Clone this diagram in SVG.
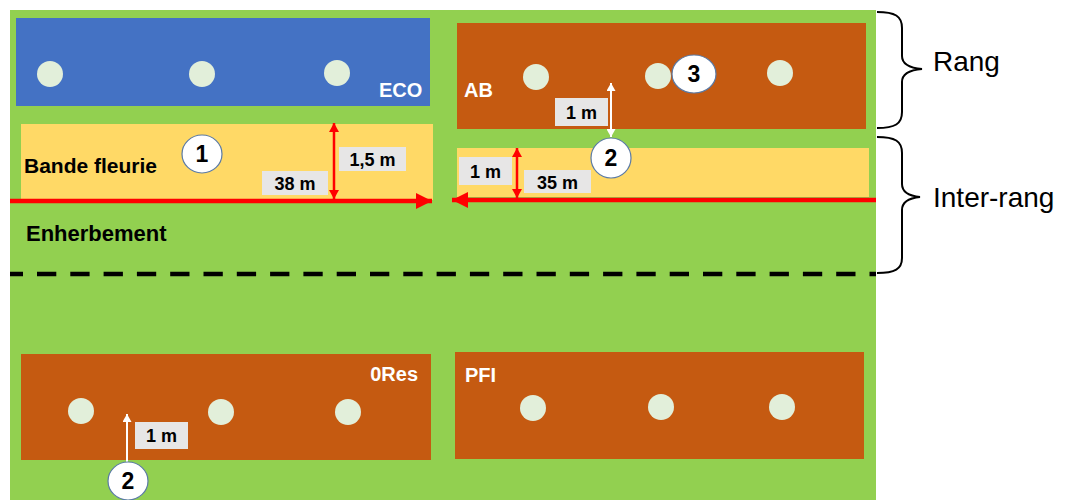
<svg xmlns="http://www.w3.org/2000/svg" width="1067" height="500" viewBox="0 0 1067 500">
  <style>
    .plot-label { font-family: "Liberation Sans", Arial, sans-serif; font-weight: bold; font-size: 20px; fill: #FFFFFF; }
    .dark-label { font-family: "Liberation Sans", Arial, sans-serif; font-weight: bold; fill: #000000; }
    .dim-box { fill: #E7E6E6; }
    .dim-text { font-family: "Liberation Sans", Arial, sans-serif; font-weight: bold; font-size: 18px; fill: #000000; text-anchor: middle; }
    .tree { fill: #E2EFDA; }
    .num-circle { fill: #FFFFFF; stroke: #5A7AA6; stroke-width: 1.2; }
    .num-text { font-family: "Liberation Sans", Arial, sans-serif; font-weight: bold; font-size: 23px; fill: #000000; text-anchor: middle; }
    .side-text { font-family: "Liberation Sans", Arial, sans-serif; font-size: 28px; fill: #000000; }
    .brace { fill: none; stroke: #000000; stroke-width: 2; }
    .red-thin { stroke: #FF0000; stroke-width: 2.5; fill: none; }
    .red-thick { stroke: #FF0000; stroke-width: 4.5; fill: none; }
    .white-arrow { stroke: #FFFFFF; stroke-width: 2; fill: none; }
  </style>
  <defs>
    <marker id="redSmall" markerUnits="userSpaceOnUse" markerWidth="9" markerHeight="10" refX="9" refY="5" orient="auto-start-reverse" viewBox="0 0 9 10">
      <path d="M0,0 L9,5 L0,10 z" fill="#FF0000"/>
    </marker>
    <marker id="redBig" markerUnits="userSpaceOnUse" markerWidth="16" markerHeight="16" refX="16" refY="8" orient="auto-start-reverse" viewBox="0 0 16 16">
      <path d="M0,0 L16,8 L0,16 z" fill="#FF0000"/>
    </marker>
    <marker id="whiteHead" markerUnits="userSpaceOnUse" markerWidth="8" markerHeight="9" refX="8" refY="4.5" orient="auto-start-reverse" viewBox="0 0 8 9">
      <path d="M0,0 L8,4.5 L0,9 z" fill="#FFFFFF"/>
    </marker>
  </defs>

  <rect x="0" y="0" width="1067" height="500" fill="#FFFFFF"/>
  <rect id="field" x="10" y="10" width="866" height="490" fill="#92D050"/>

  <g id="eco">
    <rect x="16" y="18" width="414" height="88" fill="#4472C4"/>
    <circle class="tree" cx="50" cy="74" r="13"/>
    <circle class="tree" cx="202" cy="74" r="13"/>
    <circle class="tree" cx="337" cy="73" r="13"/>
    <text class="plot-label" x="379" y="97">ECO</text>
  </g>

  <g id="ab">
    <rect x="457" y="23" width="409" height="106" fill="#C55A11"/>
    <circle class="tree" cx="536" cy="77" r="13"/>
    <circle class="tree" cx="658" cy="76" r="13"/>
    <circle class="tree" cx="780" cy="73" r="13"/>
    <text class="plot-label" x="464" y="97">AB</text>
  </g>

  <g id="bande-fleurie-left">
    <rect x="21" y="124" width="412" height="76" fill="#FFD966"/>
    <text class="dark-label" x="24" y="173" font-size="21">Bande fleurie</text>
  </g>

  <g id="bande-fleurie-right">
    <rect x="457" y="148" width="412" height="49" fill="#FFD966"/>
  </g>

  <g id="ores">
    <rect x="21" y="354" width="410" height="106" fill="#C55A11"/>
    <circle class="tree" cx="81" cy="411" r="13"/>
    <circle class="tree" cx="221" cy="412" r="13"/>
    <circle class="tree" cx="348" cy="412" r="13"/>
    <text class="plot-label" x="418" y="381" text-anchor="end">0Res</text>
  </g>

  <g id="pfi">
    <rect x="455" y="352" width="409" height="107" fill="#C55A11"/>
    <circle class="tree" cx="533" cy="408" r="13"/>
    <circle class="tree" cx="661" cy="407" r="13"/>
    <circle class="tree" cx="782" cy="407" r="13"/>
    <text class="plot-label" x="465" y="382">PFI</text>
  </g>

  <g id="enherbement">
    <text class="dark-label" x="26" y="241" font-size="22">Enherbement</text>
  </g>

  <g id="connectors">
    <line class="red-thick" x1="10" y1="201" x2="432" y2="201" marker-end="url(#redBig)"/>
    <line class="red-thick" x1="876" y1="200" x2="452" y2="200" marker-end="url(#redBig)"/>
    <line class="red-thin" x1="334" y1="123" x2="334" y2="199" marker-start="url(#redSmall)" marker-end="url(#redSmall)"/>
    <line class="red-thin" x1="517" y1="148" x2="517" y2="198" marker-start="url(#redSmall)" marker-end="url(#redSmall)"/>
    <line class="white-arrow" x1="611" y1="83" x2="611" y2="137" marker-start="url(#whiteHead)" marker-end="url(#whiteHead)"/>
    <line class="white-arrow" x1="127" y1="462" x2="127" y2="414" marker-end="url(#whiteHead)"/>
    <line x1="10" y1="274" x2="876" y2="274" stroke="#000000" stroke-width="4.5" stroke-dasharray="19.3 14" stroke-dashoffset="6.3"/>
  </g>

  <g id="dim-1-5m">
    <rect class="dim-box" x="339" y="147" width="67" height="24"/>
    <text class="dim-text" x="372.5" y="166">1,5 m</text>
  </g>
  <g id="dim-38m">
    <rect class="dim-box" x="262" y="171" width="66" height="24"/>
    <text class="dim-text" x="295" y="190">38 m</text>
  </g>
  <g id="dim-1m-ab">
    <rect class="dim-box" x="555" y="98" width="53" height="28"/>
    <text class="dim-text" x="581.5" y="118.5">1 m</text>
  </g>
  <g id="dim-1m-band">
    <rect class="dim-box" x="459" y="157" width="53" height="28"/>
    <text class="dim-text" x="485.5" y="177.5">1 m</text>
  </g>
  <g id="dim-35m">
    <rect class="dim-box" x="524" y="170" width="67" height="23"/>
    <text class="dim-text" x="557.5" y="188.5">35 m</text>
  </g>
  <g id="dim-1m-ores">
    <rect class="dim-box" x="135" y="422" width="53" height="27"/>
    <text class="dim-text" x="161.5" y="442">1 m</text>
  </g>

  <g id="marker-1">
    <ellipse class="num-circle" cx="202" cy="154" rx="20" ry="19"/>
    <text class="num-text" x="202" y="162">1</text>
  </g>
  <g id="marker-2-top">
    <ellipse class="num-circle" cx="611" cy="158" rx="20" ry="20"/>
    <text class="num-text" x="611" y="166">2</text>
  </g>
  <g id="marker-3">
    <ellipse class="num-circle" cx="694" cy="74" rx="22" ry="19"/>
    <text class="num-text" x="694" y="82">3</text>
  </g>
  <g id="marker-2-bottom">
    <ellipse class="num-circle" cx="128" cy="481" rx="20" ry="19"/>
    <text class="num-text" x="128" y="489">2</text>
  </g>

  <g id="rang">
    <path class="brace" d="M877,12 C895,12 902,16 902,28 L902,56 C902,64 910,68 922,69 C910,70 902,74 902,82 L902,112 C902,124 895,128 877,128"/>
    <text class="side-text" x="933" y="71">Rang</text>
  </g>
  <g id="inter-rang">
    <path class="brace" d="M877,137 C895,137 902,141 902,153 L902,184 C902,192 910,196 920,197 C910,198 902,202 902,210 L902,258 C902,269 895,273 877,273"/>
    <text class="side-text" x="933" y="207">Inter-rang</text>
  </g>
</svg>
